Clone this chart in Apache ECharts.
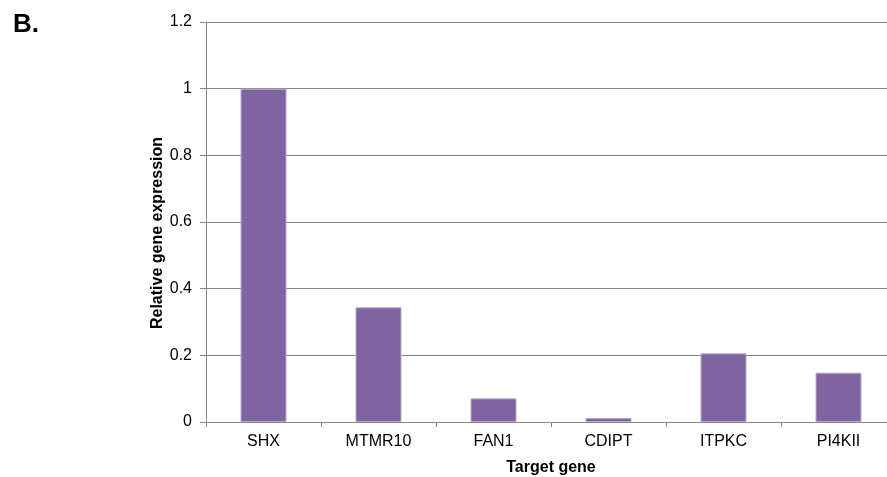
<!DOCTYPE html>
<html>
<head>
<meta charset="utf-8">
<style>
  html, body { margin: 0; padding: 0; background: #fff; }
  #chart { width: 887px; height: 477px; }
</style>
<script src="https://cdn.jsdelivr.net/npm/echarts@6/dist/echarts.min.js"></script>
</head>
<body>
<div id="chart"></div>
<script>
// Target genes and their relative expression (normalised to SHX = 1)
const genes = ['SHX', 'MTMR10', 'FAN1', 'CDIPT', 'ITPKC', 'PI4KII'];
const expression = [1.0, 0.344, 0.071, 0.012, 0.206, 0.148];
const yTicks = { min: 0, max: 1.2, step: 0.2 };

const chart = echarts.init(document.getElementById('chart'), null, { renderer: 'canvas' });
const font = 'Liberation Sans, Arial, Helvetica, sans-serif';

chart.setOption({
  animation: false,
  backgroundColor: '#ffffff',
  title: {
    text: 'B.',
    left: 8,
    top: 7,
    textStyle: { fontFamily: font, fontSize: 26, fontWeight: 'bold', color: '#000' }
  },
  // the plot runs on past the right edge of the canvas
  grid: { left: 206, top: 22, width: 690, height: 400, containLabel: false, outerBoundsMode: 'none' },
  xAxis: {
    type: 'category',
    data: genes,
    name: 'Target gene',
    nameLocation: 'middle',
    nameGap: 38,
    nameMoveOverlap: false,
    nameTextStyle: { fontFamily: font, fontSize: 16, fontWeight: 'bold', color: '#000' },
    axisLine: { lineStyle: { color: '#868686', width: 1 } },
    axisTick: { show: true, alignWithLabel: false, length: 5, lineStyle: { color: '#868686' } },
    axisLabel: { fontFamily: font, fontSize: 16, color: '#000', margin: 12 }
  },
  yAxis: {
    type: 'value',
    min: yTicks.min,
    max: yTicks.max,
    interval: yTicks.step,
    name: 'Relative gene expression',
    nameLocation: 'middle',
    nameGap: 40,
    nameMoveOverlap: false,
    nameRotate: 90,
    nameTextStyle: { fontFamily: font, fontSize: 16, fontWeight: 'bold', color: '#000', padding: [0, 22, 0, 0] },
    axisLine: { show: true, lineStyle: { color: '#868686', width: 1 } },
    axisTick: { show: true, length: 6, lineStyle: { color: '#868686' } },
    axisLabel: {
      fontFamily: font, fontSize: 16, color: '#000', margin: 14,
      formatter: v => String(Math.round(v * 10) / 10)
    },
    splitLine: { show: true, lineStyle: { color: '#868686', width: 1 } }
  },
  series: [{
    type: 'bar',
    data: expression,
    barWidth: '40%',
    itemStyle: { color: '#8064A2', borderColor: '#b8a9cc', borderWidth: 1 }
  }]
});
</script>
</body>
</html>
